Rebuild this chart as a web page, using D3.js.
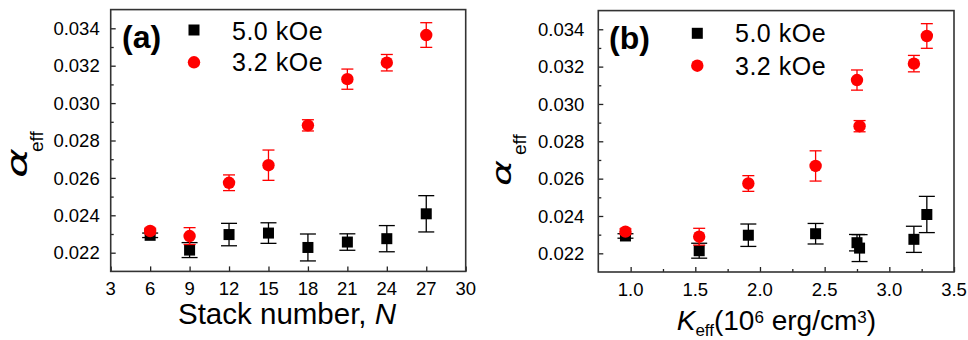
<!DOCTYPE html>
<html>
<head>
<meta charset="utf-8">
<script src="https://cdn.jsdelivr.net/npm/d3@7"></script>
<style>
body { margin: 0; background: #fff; }
svg { display: block; font-family: "Liberation Sans", Arial, sans-serif; }
</style>
</head>
<body>
<div id="chart"></div>
<script>
// data
var stackN = [6, 9, 12, 15, 18, 21, 24, 27];
var kEff = [0.96, 1.53, 1.91, 2.43, 2.77, 2.75, 3.19, 3.29];
var alpha50 = [0.02293, 0.02214, 0.02297, 0.02305, 0.02228, 0.02257, 0.02275, 0.02408];
var err50 = [0.00012, 0.0004, 0.0006, 0.00055, 0.00072, 0.00044, 0.0007, 0.00097];
var alpha32 = [0.02316, 0.02289, 0.02574, 0.02668, 0.02881, 0.03128, 0.03216, 0.03364];
var err32 = [0.00015, 0.00045, 0.00042, 0.00081, 0.0003, 0.00054, 0.00044, 0.00066];
var seriesNames = ['5.0 kOe', '3.2 kOe'];

var nTicks = [3, 6, 9, 12, 15, 18, 21, 24, 27, 30];
var kTicks = [1.0, 1.5, 2.0, 2.5, 3.0, 3.5];
var kMinor = [1.25, 1.75, 2.25, 2.75, 3.25];
var alphaTicks = [0.022, 0.024, 0.026, 0.028, 0.030, 0.032, 0.034];
var alphaMinor = [0.023, 0.025, 0.027, 0.029, 0.031, 0.033];

var width = 968,
	height = 340;

var svg = d3.select('#chart').append('svg')
	.attr('width', width)
	.attr('height', height);

drawPanel({
	tag: '(a)',
	left: 110.7, right: 465.7, top: 9.6, bottom: 271.4,
	xs: stackN, xDomain: [3, 30], xTicks: nTicks, xMinor: [],
	xFormat: d3.format('d'), yLabelGap: 11,
	tagX: 122, tagY: 48,
	legX: 194, legY: [30, 62.3], legTextX: 232, legTextY: [39.5, 71],
	alphaX: 27, alphaY: 178, alphaSize: 28, alphaLen: 30,
	effX: 43, effY: 152,
	xTitle: 'a'
});

drawPanel({
	tag: '(b)',
	left: 598.3, right: 954, top: 10.6, bottom: 272,
	xs: kEff, xDomain: [0.75, 3.5], xTicks: kTicks, xMinor: kMinor,
	xFormat: d3.format('.1f'), yLabelGap: 14,
	tagX: 609, tagY: 49,
	legX: 697.3, legY: [33.3, 65.7], legTextX: 735, legTextY: [42, 74.5],
	alphaX: 511, alphaY: 186, alphaSize: 27, alphaLen: 26,
	effX: 526, effY: 155,
	xTitle: 'b'
});

function drawPanel(p) {
	var x = d3.scaleLinear().domain(p.xDomain).range([p.left, p.right]);
	var y = d3.scaleLinear().domain([0.021, 0.035]).range([p.bottom, p.top]);
	var g = svg.append('g');

	// inward ticks on bottom and left
	var bottomAxis = d3.axisTop(x).tickValues(p.xTicks).tickSize(5).tickFormat('');
	var bottomMinor = d3.axisTop(x).tickValues(p.xMinor).tickSize(3).tickFormat('');
	var leftAxis = d3.axisRight(y).tickValues(alphaTicks).tickSize(5).tickFormat('');
	var leftMinor = d3.axisRight(y).tickValues(alphaMinor).tickSize(3).tickFormat('');

	[bottomAxis, bottomMinor].forEach(function (ax) {
		g.append('g').attr('transform', 'translate(0,' + p.bottom + ')').call(ax);
	});
	[leftAxis, leftMinor].forEach(function (ax) {
		g.append('g').attr('transform', 'translate(' + p.left + ',0)').call(ax);
	});
	g.selectAll('.domain').remove();
	g.selectAll('.tick line').attr('stroke', '#222').attr('stroke-width', 1.3);

	g.append('rect')
		.attr('x', p.left).attr('y', p.top)
		.attr('width', p.right - p.left).attr('height', p.bottom - p.top)
		.attr('fill', 'none').attr('stroke', '#333').attr('stroke-width', 1.6);

	// tick labels
	g.selectAll('.xlab')
		.data(p.xTicks)
		.enter().append('text')
		.attr('x', function (d) { return x(d); })
		.attr('y', p.bottom + 23.5)
		.attr('text-anchor', 'middle')
		.style('font-size', '18.5px')
		.text(p.xFormat);

	g.selectAll('.ylab')
		.data(alphaTicks)
		.enter().append('text')
		.attr('x', p.left - p.yLabelGap)
		.attr('y', function (d) { return y(d); })
		.attr('dy', '0.36em')
		.attr('text-anchor', 'end')
		.style('font-size', '18.5px')
		.text(d3.format('.3f'));

	// 5.0 kOe: error bars then squares
	var rows50 = p.xs.map(function (v, i) { return { x: v, y: alpha50[i], e: err50[i] }; });
	var rows32 = p.xs.map(function (v, i) { return { x: v, y: alpha32[i], e: err32[i] }; });

	errorBars(g, rows50, x, y, '#000', 8);
	g.selectAll('.sq')
		.data(rows50)
		.enter().append('rect')
		.attr('x', function (d) { return x(d.x) - 5.5; })
		.attr('y', function (d) { return y(d.y) - 5.5; })
		.attr('width', 11).attr('height', 11)
		.attr('fill', '#000');

	errorBars(g, rows32, x, y, '#ff0000', 6);
	g.selectAll('.ci')
		.data(rows32)
		.enter().append('circle')
		.attr('cx', function (d) { return x(d.x); })
		.attr('cy', function (d) { return y(d.y); })
		.attr('r', 6.2)
		.attr('fill', '#ff0000');

	// panel tag and legend
	g.append('text')
		.attr('x', p.tagX).attr('y', p.tagY)
		.style('font-size', '32px').style('font-weight', 'bold')
		.text(p.tag);

	g.append('rect')
		.attr('x', p.legX - 5.5).attr('y', p.legY[0] - 5.5)
		.attr('width', 11).attr('height', 11).attr('fill', '#000');
	g.append('circle')
		.attr('cx', p.legX).attr('cy', p.legY[1]).attr('r', 6.2).attr('fill', '#ff0000');
	seriesNames.forEach(function (name, i) {
		g.append('text')
			.attr('x', p.legTextX).attr('y', p.legTextY[i])
			.style('font-size', '25px').style('letter-spacing', '0.5px')
			.text(name);
	});

	// y title: alpha_eff
	g.append('text')
		.attr('transform', 'translate(' + p.alphaX + ',' + p.alphaY + ') rotate(-90)')
		.attr('textLength', p.alphaLen).attr('lengthAdjust', 'spacingAndGlyphs')
		.style('font-family', '"DejaVu Sans"')
		.style('font-size', p.alphaSize + 'px').style('font-style', 'italic')
		.text('\u03b1');
	g.append('text')
		.attr('transform', 'translate(' + p.effX + ',' + p.effY + ') rotate(-90)')
		.style('font-size', '19px')
		.text('eff');

	// x title
	if (p.xTitle === 'a') {
		var t = g.append('text')
			.attr('x', 178).attr('y', 324)
			.style('font-size', '29.5px');
		t.append('tspan').text('Stack number, ');
		t.append('tspan').style('font-style', 'italic').text('N');
	} else {
		var t2 = g.append('text')
			.attr('x', 676.7).attr('y', 330)
			.style('font-size', '28px');
		t2.append('tspan').style('font-style', 'italic').text('K');
		t2.append('tspan').attr('dy', 6).style('font-size', '17px').text('eff');
		t2.append('tspan').attr('dy', -6).text('(10');
		t2.append('tspan').attr('dy', -7).style('font-size', '17px').text('6');
		t2.append('tspan').attr('dy', 7).text(' erg/cm');
		t2.append('tspan').attr('dy', -7).style('font-size', '17px').text('3');
		t2.append('tspan').attr('dy', 7).text(')');
	}
}

function errorBars(g, rows, x, y, color, half) {
	var eb = g.append('g').attr('stroke', color).attr('stroke-width', 1.3);
	eb.selectAll('.v')
		.data(rows)
		.enter().append('line')
		.attr('x1', function (d) { return x(d.x); })
		.attr('x2', function (d) { return x(d.x); })
		.attr('y1', function (d) { return y(d.y - d.e); })
		.attr('y2', function (d) { return y(d.y + d.e); });
	[-1, 1].forEach(function (s) {
		eb.selectAll('.c' + s)
			.data(rows)
			.enter().append('line')
			.attr('x1', function (d) { return x(d.x) - half; })
			.attr('x2', function (d) { return x(d.x) + half; })
			.attr('y1', function (d) { return y(d.y + s * d.e); })
			.attr('y2', function (d) { return y(d.y + s * d.e); });
	});
}
</script>
</body>
</html>
